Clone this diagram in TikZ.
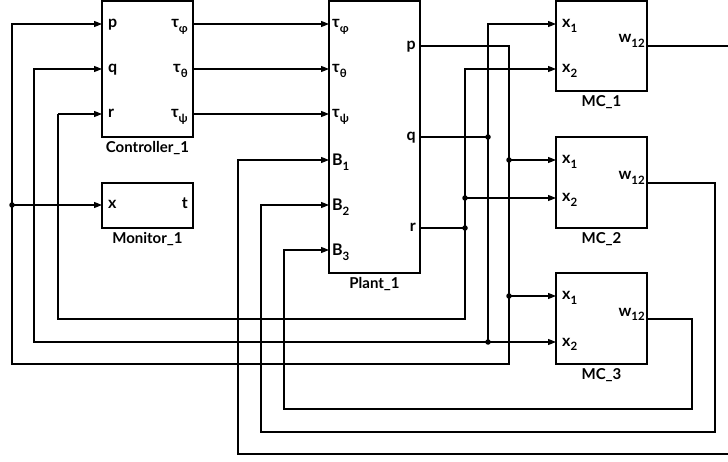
\documentclass[tikz,border=0pt]{standalone}
\usepackage{fontspec}
\setmainfont{Lato}
\usetikzlibrary{arrows.meta,positioning}
\newcommand{\lblfont}{\fontsize{15}{17}\selectfont\bfseries}
\newcommand{\pinfont}{\fontsize{16}{18}\selectfont\bfseries}
\newcommand{\sbs}[1]{\raisebox{-0.55ex}{\fontsize{11.5}{12}\selectfont #1}}
\tikzset{
  blk/.style={draw, line width=2pt, minimum width=91pt, inner sep=0pt, outer sep=0pt},
  title/.style={font=\lblfont, inner sep=1pt},
  inp/.style={font=\pinfont, inner sep=0pt, anchor=base west, xshift=6pt, yshift=-4pt},
  outp/.style={font=\pinfont, inner sep=0pt, anchor=base east, xshift=-5pt, yshift=-4pt},
  wire/.style={line width=1.1pt},
  sig/.style={wire, -{Triangle[length=8pt,width=6pt]}},
  jn/.style={circle, fill, inner sep=0pt, minimum size=5.5pt}
}

\begin{document}
\begin{tikzpicture}[x=1pt, y=1pt, node distance=3.5pt]
\useasboundingbox (0,0) rectangle (728,461);
\clip (0,0) rectangle (728,461);

% blocks
\node[blk, minimum height=136pt] (ctrl) at (147.5,392) {};
\node[blk, minimum height=45pt] (mon) at (147.5,255.5) {};
\node[blk, minimum height=272pt] (plant) at (374.5,324) {};
\node[blk, minimum height=90pt] (mc1) at (601.5,415) {};
\node[blk, minimum height=91pt] (mc2) at (601.5,278.5) {};
\node[blk, minimum height=91pt] (mc3) at (601.5,142.5) {};

\node[title, below=of ctrl] (tctrl) {Controller\_1};
\node[title, below=of mon] (tmon) {Monitor\_1};
\node[title, below=of plant] (tplant) {Plant\_1};
\node[title, below=of mc1] (tmc1) {MC\_1};
\node[title, below=of mc2] (tmc2) {MC\_2};
\node[title, below=of mc3] (tmc3) {MC\_3};

% ports
\coordinate (ctrl-p) at (ctrl.west |- 0,437);
\coordinate (ctrl-q) at (ctrl.west |- 0,392);
\coordinate (ctrl-r) at (ctrl.west |- 0,347);
\coordinate (ctrl-tf) at (ctrl.east |- 0,437);
\coordinate (ctrl-tt) at (ctrl.east |- 0,392);
\coordinate (ctrl-tp) at (ctrl.east |- 0,347);
\coordinate (mon-x) at (mon.west |- 0,256);
\coordinate (mon-t) at (mon.east |- 0,256);
\coordinate (plant-tf) at (plant.west |- 0,437);
\coordinate (plant-tt) at (plant.west |- 0,392);
\coordinate (plant-tp) at (plant.west |- 0,347);
\coordinate (plant-b1) at (plant.west |- 0,301);
\coordinate (plant-b2) at (plant.west |- 0,256);
\coordinate (plant-b3) at (plant.west |- 0,211);
\coordinate (plant-p) at (plant.east |- 0,415);
\coordinate (plant-q) at (plant.east |- 0,324);
\coordinate (plant-r) at (plant.east |- 0,233);
\coordinate (mc1-x1) at (mc1.west |- 0,437);
\coordinate (mc1-x2) at (mc1.west |- 0,392);
\coordinate (mc1-w) at (mc1.east |- 0,415);
\coordinate (mc2-x1) at (mc2.west |- 0,301);
\coordinate (mc2-x2) at (mc2.west |- 0,263);
\coordinate (mc2-w) at (mc2.east |- 0,278);
\coordinate (mc3-x1) at (mc3.west |- 0,165);
\coordinate (mc3-x2) at (mc3.west |- 0,119);
\coordinate (mc3-w) at (mc3.east |- 0,142);

\node[inp] (lcp) at (ctrl-p) {p};
\node[inp] (lcq) at (ctrl-q) {q};
\node[inp] (lcr) at (ctrl-r) {r};
\node[outp] (lctf) at (ctrl-tf) {τ\sbs{φ}};
\node[outp] (lctt) at (ctrl-tt) {τ\sbs{θ}};
\node[outp] (lctp) at (ctrl-tp) {τ\sbs{ψ}};
\node[inp] (lmx) at (mon-x) {x};
\node[outp] (lmt) at (mon-t) {t};
\node[inp, xshift=-3pt] (lptf) at (plant-tf) {τ\sbs{φ}};
\node[inp, xshift=-3pt] (lptt) at (plant-tt) {τ\sbs{θ}};
\node[inp, xshift=-3pt] (lptp) at (plant-tp) {τ\sbs{ψ}};
\node[inp, xshift=-3pt, yshift=-1.5pt] (lpb1) at (plant-b1) {B\sbs{1}};
\node[inp, xshift=-3pt, yshift=-1.5pt] (lpb2) at (plant-b2) {B\sbs{2}};
\node[inp, xshift=-3pt, yshift=-1.5pt] (lpb3) at (plant-b3) {B\sbs{3}};
\node[outp, xshift=1pt] (lpp) at (plant-p) {p};
\node[outp, xshift=1pt] (lpq) at (plant-q) {q};
\node[outp, xshift=1pt] (lpr) at (plant-r) {r};
\node[inp] (l1x1) at (mc1-x1) {x\sbs{1}};
\node[inp] (l1x2) at (mc1-x2) {x\sbs{2}};
\node[outp, xshift=3pt, yshift=7pt] (l1w) at (mc1-w) {w\sbs{12}};
\node[inp] (l2x1) at (mc2-x1) {x\sbs{1}};
\node[inp] (l2x2) at (mc2-x2) {x\sbs{2}};
\node[outp, xshift=3pt, yshift=7pt] (l2w) at (mc2-w) {w\sbs{12}};
\node[inp] (l3x1) at (mc3-x1) {x\sbs{1}};
\node[inp] (l3x2) at (mc3-x2) {x\sbs{2}};
\node[outp, xshift=3pt, yshift=7pt] (l3w) at (mc3-w) {w\sbs{12}};

% controller -> plant
\draw[sig] (ctrl-tf) -- (plant-tf);
\draw[sig] (ctrl-tt) -- (plant-tt);
\draw[sig] (ctrl-tp) -- (plant-tp);

% junctions
\node[jn] (jp1) at (509,301) {};
\node[jn] (jp2) at (509,165) {};
\node[jn] (jp3) at (12,256) {};
\node[jn] (jq1) at (488,324) {};
\node[jn] (jq2) at (488,119) {};
\node[jn] (jr1) at (465,233) {};
\node[jn] (jr2) at (465,263) {};

% p feedback
\draw[wire] (plant-p) -| (jp1.center) -- (jp2.center) -- (509,97) -| (jp3.center);
\draw[sig] (jp3.center) |- (ctrl-p);
\draw[sig] (jp3.center) -- (mon-x);
\draw[sig] (jp1.center) -- (mc2-x1);
\draw[sig] (jp2.center) -- (mc3-x1);

% q feedback
\draw[wire] (plant-q) -- (jq1.center);
\draw[sig] (jq1.center) |- (mc1-x1);
\draw[wire] (jq1.center) -- (jq2.center);
\draw[sig] (jq2.center) -- (mc3-x2);
\draw[sig] (jq2.center) -| (34,392) -- (ctrl-q);

% r feedback
\draw[wire] (plant-r) -- (jr1.center);
\draw[sig] (jr2.center) |- (mc1-x2);
\draw[sig] (jr2.center) -- (mc2-x2);
\draw[wire] (jr2.center) -- (jr1.center) -- (465,142) -| (58,347);
\draw[sig] (58,347) -- (ctrl-r);

% MC outputs -> plant B inputs
\draw[sig] (mc1-w) -- (760,415) -- (760,7) -| (238,301) -- (plant-b1);
\draw[sig] (mc2-w) -| (715,29) -| (261,256) -- (plant-b2);
\draw[sig] (mc3-w) -| (692,52) -| (284,211) -- (plant-b3);
\end{tikzpicture}
\end{document}
